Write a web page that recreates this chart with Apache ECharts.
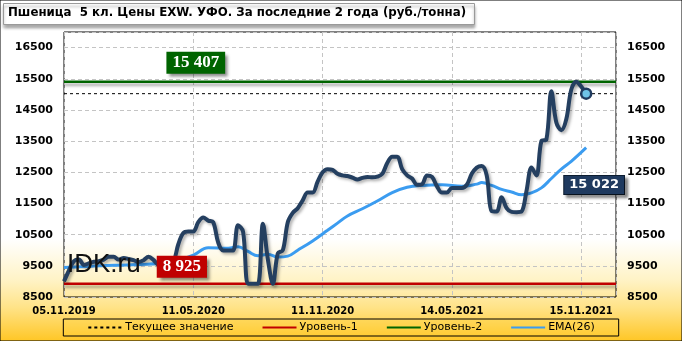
<!DOCTYPE html>
<html><head><meta charset="utf-8">
<script src="https://cdn.jsdelivr.net/npm/echarts@6/dist/echarts.min.js"></script>
<style>html,body{margin:0;padding:0;background:#fff}#c{width:682px;height:341px}</style>
</head><body><div id="c"></div>
<script>
// ---- data ----
var titleText = 'Пшеница  5 кл. Цены EXW. УФО. За последние 2 года (руб./тонна)';
var xTickLabels = ['05.11.2019', '11.05.2020', '11.11.2020', '14.05.2021', '15.11.2021'];
var weeksPerTick = 26;
var weeksTotal = 111;
var yTicks = [8500, 9500, 10500, 11500, 12500, 13500, 14500, 15500, 16500];
var priceValues = [
  9000, 9350, 9650, 9700, 9530, 9580, 9630, 9650, 9700, 9790,
  9790, 9700, 9750, 9720, 9680, 9620, 9680, 9790, 9690, 9520,
  9450, 9450, 9600, 10200, 10550, 10600, 10600, 10900, 11050, 10950,
  10900, 10250, 9990, 9990, 9990, 10800, 10600, 8925, 8925, 8925,
  10850, 9700, 8925, 9900, 10000, 10900, 11200, 11350, 11600, 11850,
  11850, 12200, 12500, 12600, 12580, 12450, 12400, 12380, 12330, 12270,
  12320, 12350, 12340, 12360, 12450, 12800, 13000, 13000, 12600, 12400,
  12300, 12100, 12120, 12400, 12350, 12050, 11850, 11850, 12000, 12000,
  12000, 12100, 12450, 12650, 12700, 12400, 11250, 11240, 11700, 11350,
  11230, 11220, 11240, 11900, 12650, 12400, 13500, 13550, 15100, 14100,
  13850, 14200, 15150, 15407, 15250, 15022
];
var emaWeeks  = [0, 5, 10, 15, 20, 22, 26, 29, 33, 35, 37, 39, 41, 43, 45, 47, 50, 53, 55, 57, 60, 63, 66, 69, 72, 76, 80, 83, 84, 86, 88, 90, 92, 94, 96, 98, 100, 102, 105];
var emaValues = [9450, 9480, 9520, 9540, 9580, 9620, 9840, 10080, 10060, 10110, 9960, 9820, 9870, 9780, 9810, 10000, 10300, 10640, 10870, 11100, 11330, 11580, 11850, 12020, 12080, 12100, 12050, 12120, 12170, 12080, 11950, 11870, 11780, 11840, 12000, 12300, 12600, 12850, 13290];
var level1 = 8925;
var level2 = 15407;
var currentValue = priceValues[priceValues.length - 1];
var seriesNames = ['Текущее значение', 'Уровень-1', 'Уровень-2', 'EMA(26)'];

// ---- helpers ----
function fmtNum(v) { return String(v).replace(/\B(?=(\d{3})+(?!\d))/g, ' '); }
var priceData = priceValues.map(function (v, i) { return [i, v]; });
var emaData = emaWeeks.map(function (w, i) { return [w, emaValues[i]]; });
function hLine(v) { return [[0, v], [weeksTotal, v]]; }
var lastIdx = priceValues.length - 1;

var chart = echarts.init(document.getElementById('c'), null, { renderer: 'canvas' });
var shadow = { shadowColor: 'rgba(0,0,0,0.35)', shadowBlur: 3, shadowOffsetX: 0, shadowOffsetY: 3 };
function boxLabel(bg, font, size) {
  return {
    show: true, position: 'inside', color: '#fff', fontFamily: font, fontWeight: 'bold', fontSize: size,
    backgroundColor: bg, padding: [3, 6, 2, 6],
    shadowColor: 'rgba(0,0,0,0.45)', shadowBlur: 3, shadowOffsetX: 3, shadowOffsetY: 3
  };
}
var yLabel = { showMaxLabel: false, margin: 11, fontFamily: 'DejaVu Sans', fontWeight: 'bold', fontSize: 11, color: '#000',
  formatter: function (v) { return String(v); } };

var option = {
  animation: false,
  textStyle: { fontFamily: 'DejaVu Sans' },
  graphic: [
    { type: 'rect', z: -10, silent: true, shape: { x: 0, y: 0, width: 682, height: 341 },
      style: { fill: new echarts.graphic.LinearGradient(0, 0, 0, 1, [
        { offset: 0, color: '#ffffff' }, { offset: 0.7, color: '#ffffff' },
        { offset: 0.82, color: '#fff3c6' }, { offset: 0.9, color: '#ffe388' }, { offset: 1, color: '#ffc624' }
      ]), stroke: '#000', lineWidth: 1 } },
    { type: 'rect', z: 50, silent: true, shape: { x: 3.5, y: 3.5, width: 471, height: 21 },
      style: { fill: '#fff', stroke: '#9a9a9a', lineWidth: 1, shadowColor: 'rgba(0,0,0,0.35)', shadowBlur: 3, shadowOffsetY: 3 } },
    { type: 'text', z: 51, left: 8, top: 7, style: { text: titleText, fontFamily: 'DejaVu Sans', fontWeight: 'bold', fontSize: 11.8, fill: '#000' } },
    { type: 'text', z: 100, left: 67, top: 252, style: { text: 'IDK.ru', fontFamily: 'Liberation Sans', fontSize: 26, fill: '#111' } }
  ],
  grid: { left: 64, right: 66, top: 32, bottom: 44, show: true, borderColor: '#000', borderWidth: 1, backgroundColor: 'transparent' },
  legend: {
    data: seriesNames, left: 'center', bottom: 5, padding: [3, 24], itemGap: 28, itemWidth: 34, itemHeight: 3,
    borderColor: '#000', borderWidth: 1, backgroundColor: 'rgba(255,210,60,0.25)',
    itemStyle: { color: 'rgba(0,0,0,0)', borderColor: 'rgba(0,0,0,0)', borderWidth: 0, opacity: 0 },
    textStyle: { fontFamily: 'DejaVu Sans', fontSize: 11, color: '#000', padding: [0, 0, 0, -2] }
  },
  xAxis: {
    type: 'value', min: 0, max: weeksTotal, interval: weeksPerTick,
    axisLine: { show: false }, axisTick: { show: false },
    splitLine: { show: true, lineStyle: { color: '#c4c4c4', type: [4, 3] } },
    axisLabel: {
      margin: 9, fontFamily: 'DejaVu Sans', fontWeight: 'bold', fontSize: 10, color: '#000',
      formatter: function (v) { return (v % weeksPerTick === 0 && xTickLabels[v / weeksPerTick]) ? xTickLabels[v / weeksPerTick] : ''; }
    }
  },
  yAxis: [
    { type: 'value', min: yTicks[0], max: 17000, interval: yTicks[1] - yTicks[0],
      axisLine: { show: false }, axisTick: { show: false },
      splitLine: { show: true, lineStyle: { color: '#c4c4c4', type: [4, 3] } },
      axisLabel: yLabel },
    { type: 'value', position: 'right', min: yTicks[0], max: 17000, interval: yTicks[1] - yTicks[0],
      axisLine: { show: false }, axisTick: { show: false }, splitLine: { show: false },
      axisLabel: yLabel }
  ],
  series: [
    { name: 'Уровень-1', type: 'line', data: hLine(level1), symbol: 'none', z: 3,
      lineStyle: Object.assign({ color: '#c00000', width: 2.5 }, shadow), itemStyle: { color: '#c00000' },
      markPoint: { z: 20, symbol: 'rect', symbolSize: 1, itemStyle: { color: 'transparent' },
        data: [{ coord: [23.7, level1], value: level1, label: Object.assign(boxLabel('#c00000', 'Liberation Serif', 17), { offset: [0, -17], formatter: function () { return fmtNum(level1); } }) }] } },
    { name: 'Уровень-2', type: 'line', data: hLine(level2), symbol: 'none', z: 3,
      lineStyle: Object.assign({ color: '#006400', width: 2.5 }, shadow), itemStyle: { color: '#006400' },
      markPoint: { z: 20, symbol: 'rect', symbolSize: 1, itemStyle: { color: 'transparent' },
        data: [{ coord: [26.5, level2], value: level2, label: Object.assign(boxLabel('#006400', 'Liberation Serif', 17), { offset: [0, -19], formatter: function () { return fmtNum(level2); } }) }] } },
    { name: 'Текущее значение', type: 'line', data: hLine(currentValue), symbol: 'none', z: 3,
      lineStyle: { color: '#000', width: 1, type: [3, 3] }, itemStyle: { color: '#000' } },
    { name: 'EMA(26)', type: 'line', data: emaData, symbol: 'none', smooth: 0.4, z: 4,
      lineStyle: { color: '#3b9cf0', width: 3 }, itemStyle: { color: '#3b9cf0' } },
    { name: 'Цена', type: 'line', data: priceData, symbol: 'none', smooth: 0.35, z: 5,
      lineStyle: { color: '#243f60', width: 4, shadowColor: 'rgba(0,0,0,0.3)', shadowBlur: 3, shadowOffsetX: 2, shadowOffsetY: 2 },
      itemStyle: { color: '#243f60' },
      markPoint: { z: 20, data: [
        { coord: [lastIdx, currentValue], symbol: 'circle', symbolSize: 10,
          itemStyle: { color: '#6ec3e8', borderColor: '#1f3a5f', borderWidth: 2.5 }, label: { show: false } },
        { coord: [106.6, 12090], symbol: 'rect', symbolSize: 1, itemStyle: { color: 'transparent' },
          label: Object.assign(boxLabel('#1f3a5f', 'DejaVu Sans', 13), { padding: [3, 5, 2, 5], borderColor: '#0c1c30', borderWidth: 1, formatter: function () { return fmtNum(currentValue); } }) }
      ] } }
  ]
};
chart.setOption(option);
</script></body></html>
